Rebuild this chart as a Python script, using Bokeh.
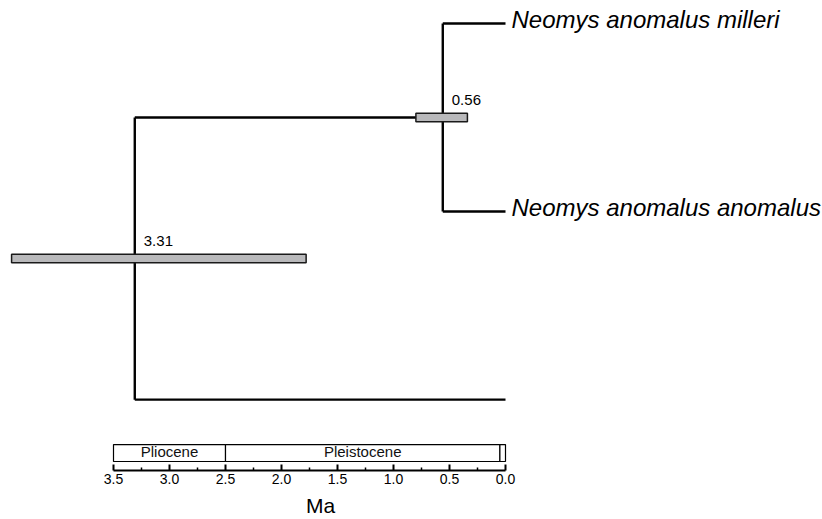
from bokeh.plotting import figure
from bokeh.models import Range1d, FixedTicker, ColumnDataSource, LinearAxis
from bokeh.core.properties import value
from bokeh.embed import file_html
from bokeh.resources import INLINE

# ---------------- data ----------------
tip_labels = ["Neomys anomalus milleri", "Neomys anomalus anomalus", ""]
tip_ages = [0.0, 0.0, 0.0]

node_labels = ["0.56", "3.31"]
node_ages = [0.56, 3.31]
node_hpd_lo = [0.34, 1.78]
node_hpd_hi = [0.80, 4.41]
# children indices: tips are 0..2, internal nodes are 3..4
node_children = [[0, 1], [3, 2]]

epoch_names = ["Pliocene", "Pleistocene", "Holocene"]
epoch_labels = ["Pliocene", "Pleistocene", ""]
epoch_old = [3.5, 2.5, 0.05]
epoch_young = [2.5, 0.05, 0.0]

tick_values = [3.5, 3.0, 2.5, 2.0, 1.5, 1.0, 0.5, 0.0]
tick_labels = ["3.5", "3.0", "2.5", "2.0", "1.5", "1.0", "0.5", "0.0"]
minor_tick_values = [3.25, 2.75, 2.25, 1.75, 1.25, 0.75, 0.25]
axis_title = "Ma"

# ---------------- layout constants ----------------
W, H = 822, 519
AXIS_PANEL = 48
FRAME_H = H - AXIS_PANEL
PX_PER_MA = 112.0
X_ZERO_PX = 505.0
TIP0_PX = 23.0
TIP_STEP = 188.5
AXIS_TITLE_AT = 1.65
FONT = "Liberation Sans"

# ---------------- tree geometry from data ----------------
n_tips = len(tip_labels)
ys = [float(i) for i in range(n_tips)]
ages = list(tip_ages)
for k, ch in enumerate(node_children):
    ys.append(sum(ys[c] for c in ch) / len(ch))
    ages.append(node_ages[k])

hx0, hx1, hy = [], [], []
vx, vy0, vy1 = [], [], []
for k, ch in enumerate(node_children):
    idx = n_tips + k
    for c in ch:
        hx0.append(ages[idx]); hx1.append(ages[c]); hy.append(ys[c])
    vx.append(ages[idx]); vy0.append(ys[ch[0]]); vy1.append(ys[ch[-1]])

node_y = ys[n_tips:]

# ---------------- figure ----------------
x_range = Range1d(X_ZERO_PX / PX_PER_MA, (X_ZERO_PX - W) / PX_PER_MA)
y_range = Range1d((FRAME_H - TIP0_PX) / TIP_STEP, -TIP0_PX / TIP_STEP)

p = figure(width=W, height=H, x_range=x_range, y_range=y_range,
           output_backend="svg", toolbar_location=None,
           x_axis_location="below", y_axis_location=None,
           min_border=0, min_border_bottom=AXIS_PANEL)
p.extra_y_ranges = {"band": Range1d(0, FRAME_H)}
p.grid.visible = False
p.outline_line_color = None
p.background_fill_color = "white"
p.border_fill_color = "white"

# tree branches
p.segment(x0=hx0, y0=hy, x1=hx1, y1=hy, line_color="black", line_width=2.4)
p.segment(x0=vx, y0=vy0, x1=vx, y1=vy1, line_color="black", line_width=2.4)

# HPD bars
p.hbar(y=node_y, left=node_hpd_lo, right=node_hpd_hi, height=8.5 / TIP_STEP,
       fill_color="#b9b9bb", line_color="#1a1a1a", line_width=1.5)

# node age labels
p.text(x=node_ages, y=node_y, text=node_labels, x_offset=9, y_offset=-18,
       text_font=value(FONT), text_font_size="15px", text_color="black",
       text_baseline="alphabetic", text_align="left")

# tip labels
p.text(x=tip_ages, y=ys[:n_tips], text=tip_labels, x_offset=6, y_offset=-4,
       text_font=value(FONT), text_font_size="24px", text_font_style="italic",
       text_color="black", text_baseline="alphabetic", text_align="left")

# geological time scale band
band = ColumnDataSource(dict(
    left=epoch_old, right=epoch_young, name=epoch_names, label=epoch_labels,
    mid=[(a + b) / 2 for a, b in zip(epoch_old, epoch_young)]))
p.quad(left="left", right="right", bottom=9, top=26, source=band,
       y_range_name="band", fill_color="white", line_color="black", line_width=1.2)
p.text(x="mid", y=19, text="label", source=band, y_range_name="band",
       text_font=value(FONT), text_font_size="15px", text_color="#111111",
       text_baseline="middle", text_align="center")

# axis
ax = p.xaxis[0]
ax.ticker = FixedTicker(ticks=tick_values, minor_ticks=minor_tick_values)
ax.major_label_overrides = {v: l for v, l in zip(tick_values, tick_labels)}
ax.bounds = (min(tick_values), max(tick_values))
ax.axis_line_width = 2
ax.axis_line_color = "black"
ax.major_tick_in = 6
ax.major_tick_out = 0
ax.minor_tick_in = 3
ax.minor_tick_out = 0
ax.major_tick_line_width = 2
ax.minor_tick_line_width = 1.5
ax.major_tick_line_color = "black"
ax.minor_tick_line_color = "black"
ax.major_label_standoff = 3
ax.major_label_text_font = FONT
ax.major_label_text_font_size = "14px"
ax.major_label_text_color = "black"

# axis title, placed under the scale bar through a label-only axis
title_axis = LinearAxis(ticker=FixedTicker(ticks=[AXIS_TITLE_AT], minor_ticks=[]),
                        major_label_overrides={AXIS_TITLE_AT: axis_title})
title_axis.axis_line_color = None
title_axis.major_tick_line_color = None
title_axis.minor_tick_line_color = None
title_axis.major_tick_in = 0
title_axis.major_tick_out = 0
title_axis.minor_tick_in = 0
title_axis.minor_tick_out = 0
title_axis.major_label_standoff = 7
title_axis.major_label_text_font = FONT
title_axis.major_label_text_font_size = "21px"
title_axis.major_label_text_color = "black"
p.add_layout(title_axis, "below")

open("out.html", "w").write(file_html(p, INLINE))
